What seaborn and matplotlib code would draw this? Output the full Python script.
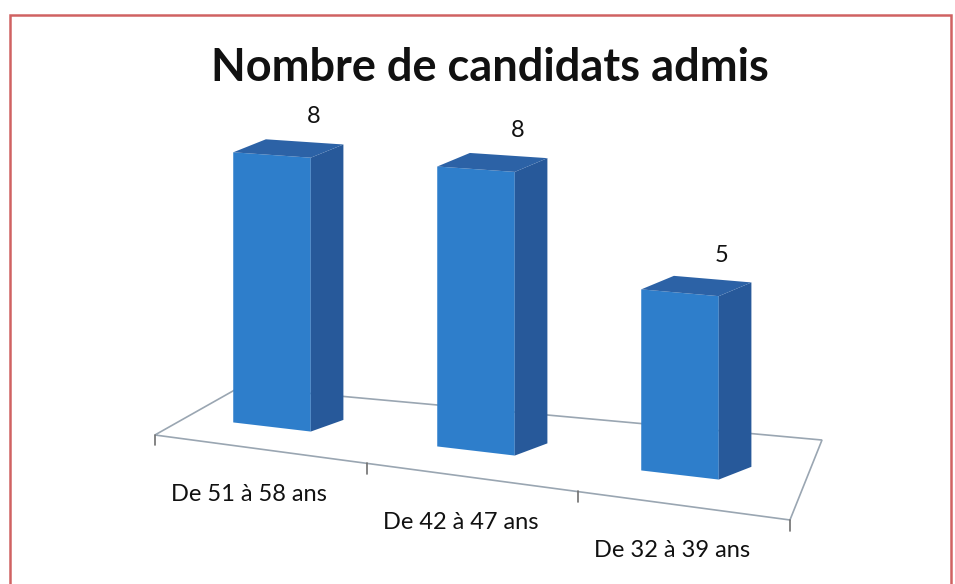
import numpy as np
import matplotlib
matplotlib.use("Agg")
import matplotlib.pyplot as plt
import seaborn as sns
from matplotlib.transforms import Transform, offset_copy
from matplotlib.patches import Polygon, Rectangle

# -----------------------------
# Data
# -----------------------------
categories = ["De 51 à 58 ans", "De 42 à 47 ans", "De 32 à 39 ans"]
values = [8, 8, 5]
title = "Nombre de candidats admis"

# colours
FRONT = "#2E7ECB"
SIDE = "#27599A"
TOP = "#2C62A6"
FLOOR_EDGE = "#9AA6B2"
BORDER = "#D06262"

# pseudo 3D geometry
PX_X, X0 = 204, 272      # pixels per category, centre of first bar
PX_Y, Y0 = 34, 157       # pixels per unit, baseline under first bar
SLOPE = 0.706            # floor tilt (value units per category)
GROW = 0.036             # bars get taller towards the right (perspective)
DX, DY = 0.16, 0.45      # depth of the boxes


class Perspective(Transform):
    """Tilt the floor and stretch the value axis along x."""
    input_dims = output_dims = 2

    def transform_non_affine(self, values):
        v = np.asarray(values, dtype=float)
        x, y = v[:, 0], v[:, 1]
        return np.column_stack([x, y * (1 + GROW * x) - SLOPE * x])


# -----------------------------
# Plot
# -----------------------------
sns.set_theme(style="white")
plt.rcParams["font.family"] = ["Lato", "DejaVu Sans"]

fig = plt.figure(figsize=(9.55, 5.84), dpi=100)
ax = fig.add_axes([0, 0, 1, 1])

sns.barplot(x=categories, y=values, color=FRONT, width=0.38, saturation=1,
            linewidth=0, ax=ax, zorder=3)

ax.set_xlim(-X0 / PX_X, (955 - X0) / PX_X)
ax.set_ylim(-Y0 / PX_Y, (584 - Y0) / PX_Y)
ax.set_axis_off()

tr = Perspective() + ax.transData

# floor
floor = [(-0.574, -0.654), (2.539, -0.863), (2.696, 1.386), (-0.157, 1.071)]
ax.add_patch(Polygon(floor, closed=True, transform=tr, fc="white",
                     ec=FLOOR_EDGE, lw=1.2, zorder=1))

# ticks and category labels along the front edge
fl, fr = np.array(floor[0]), np.array(floor[1])
fracs = np.linspace(0, 1, len(categories) + 1)
pts = [fl + f * (fr - fl) for f in fracs]
for p in pts:
    ax.plot([p[0], p[0]], [p[1], p[1] - 0.3], transform=tr,
            color="#707070", lw=1.2, zorder=2)
lab_tr = offset_copy(tr, fig=fig, x=-12, y=-45, units="dots")
for i, cat in enumerate(categories):
    m = (pts[i] + pts[i + 1]) / 2
    ax.text(m[0], m[1], cat, transform=lab_tr, ha="center", va="center",
            fontsize=17, color="#111111")

# 3D faces and value labels
val_tr = offset_copy(tr, fig=fig, x=3, y=41, units="dots")
for bar, v in zip(ax.patches, values):
    bar.set_transform(tr)
    x0 = bar.get_x()
    w = bar.get_width()
    h = bar.get_height()
    x1 = x0 + w
    ax.add_patch(Polygon([(x1, 0), (x1, h), (x1 + DX, h + DY), (x1 + DX, DY)],
                         closed=True, transform=tr, fc=SIDE, lw=0, zorder=3))
    ax.add_patch(Polygon([(x0, h), (x1, h), (x1 + DX, h + DY), (x0 + DX, h + DY)],
                         closed=True, transform=tr, fc=TOP, lw=0, zorder=3))
    ax.text(x1, h, str(v), transform=val_tr, ha="center", va="center",
            fontsize=17, color="#111111")

fig.text(490 / 955, 1 - 68 / 584, title, ha="center", va="center",
         fontsize=32.5, fontweight="bold", color="#111111")

fig.patches.append(Rectangle((10 / 955, -0.05), 941 / 955, 1.05 - 15 / 584,
                             transform=fig.transFigure, fill=False,
                             ec=BORDER, lw=1.8))

fig.savefig("out.png", dpi=100)
